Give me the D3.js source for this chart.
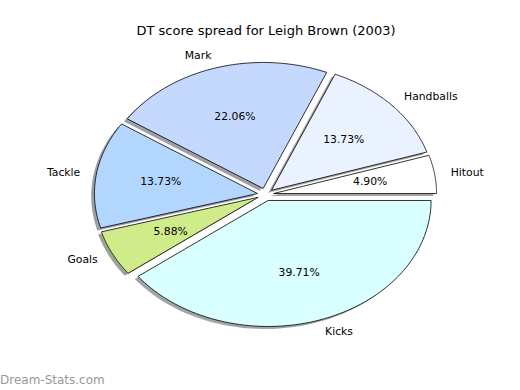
<!DOCTYPE html>
<html><head><meta charset="utf-8">
<script src="https://cdn.jsdelivr.net/npm/d3@7"></script>
<style>html,body{margin:0;padding:0;background:#fff;}svg{display:block;}</style>
</head><body>
<script>
const labels = ["Hitout","Handballs","Mark","Tackle","Goals","Kicks"];
const values = [10, 28, 45, 28, 12, 81];
const colors = ["#ffffff","#eaf2ff","#c5d9ff","#b3d6ff","#d0ec8a","#d9ffff"];
const title = "DT score spread for Leigh Brown (2003)";

const W = 520, H = 390;
const cx = 265.5, cy = 194.5, rx = 163, ry = 126;
const explode = 0.05, labelDist = 1.1, pctDist = 0.6;

const x = d3.scaleLinear().domain([-1, 1]).range([cx - rx, cx + rx]);
const y = d3.scaleLinear().domain([-1, 1]).range([cy + ry, cy - ry]);

const svg = d3.select("body").append("svg").attr("width", W).attr("height", H);

const arcs = d3.pie().sort(null).value(d => d)(values);
const total = d3.sum(values);

function wedgePath(a, dx, dy) {
  const t0 = a.startAngle, t1 = a.endAngle;
  const m = (t0 + t1) / 2;
  const ox = explode * Math.cos(m) + dx, oy = explode * Math.sin(m) + dy;
  const p = d3.path();
  p.moveTo(x(ox), y(oy));
  const n = 80;
  for (let i = 0; i <= n; i++) {
    const t = t0 + (t1 - t0) * i / n;
    p.lineTo(x(ox + Math.cos(t)), y(oy + Math.sin(t)));
  }
  p.closePath();
  return p.toString();
}

function shade(c) {
  const r = d3.rgb(c);
  return d3.rgb(r.r * 0.3, r.g * 0.3, r.b * 0.3).toString();
}

// shadows
svg.append("g").selectAll("path").data(arcs).join("path")
  .attr("d", a => wedgePath(a, -0.02, -0.02))
  .attr("fill", (a, i) => shade(colors[i]))
  .attr("fill-opacity", 0.5);

// wedges
svg.append("g").selectAll("path").data(arcs).join("path")
  .attr("d", a => wedgePath(a, 0, 0))
  .attr("fill", (a, i) => colors[i])
  .attr("stroke", "#000")
  .attr("stroke-width", 0.8)
  .attr("stroke-linejoin", "round");

const font = "DejaVu Sans, sans-serif";

// labels
svg.append("g").selectAll("text").data(arcs).join("text")
  .attr("x", a => { const m = (a.startAngle + a.endAngle) / 2; return x((explode + labelDist) * Math.cos(m)); })
  .attr("y", a => { const m = (a.startAngle + a.endAngle) / 2; return y((explode + labelDist) * Math.sin(m)); })
  .attr("text-anchor", a => Math.cos((a.startAngle + a.endAngle) / 2) > 0 ? "start" : "end")
  .attr("dominant-baseline", "central")
  .attr("font-family", font).attr("font-size", 10.8).attr("fill", "#000")
  .text((a, i) => labels[i]);

// percentages
svg.append("g").selectAll("text").data(arcs).join("text")
  .attr("x", a => { const m = (a.startAngle + a.endAngle) / 2; return x((explode + pctDist) * Math.cos(m)); })
  .attr("y", a => { const m = (a.startAngle + a.endAngle) / 2; return y((explode + pctDist) * Math.sin(m)); })
  .attr("text-anchor", "middle")
  .attr("dominant-baseline", "central")
  .attr("font-family", font).attr("font-size", 10.8).attr("fill", "#000")
  .text(a => d3.format(".2f")(a.data / total * 100) + "%");

svg.append("text").attr("x", 266).attr("y", 30).attr("text-anchor", "middle")
  .attr("dominant-baseline", "central")
  .attr("font-family", font).attr("font-size", 13).attr("fill", "#000").text(title);

svg.append("text").attr("x", 0).attr("y", 380).attr("dominant-baseline", "central")
  .attr("font-family", font).attr("font-size", 12).attr("fill", "#999999")
  .text("Dream-Stats.com");
</script>
</body></html>
